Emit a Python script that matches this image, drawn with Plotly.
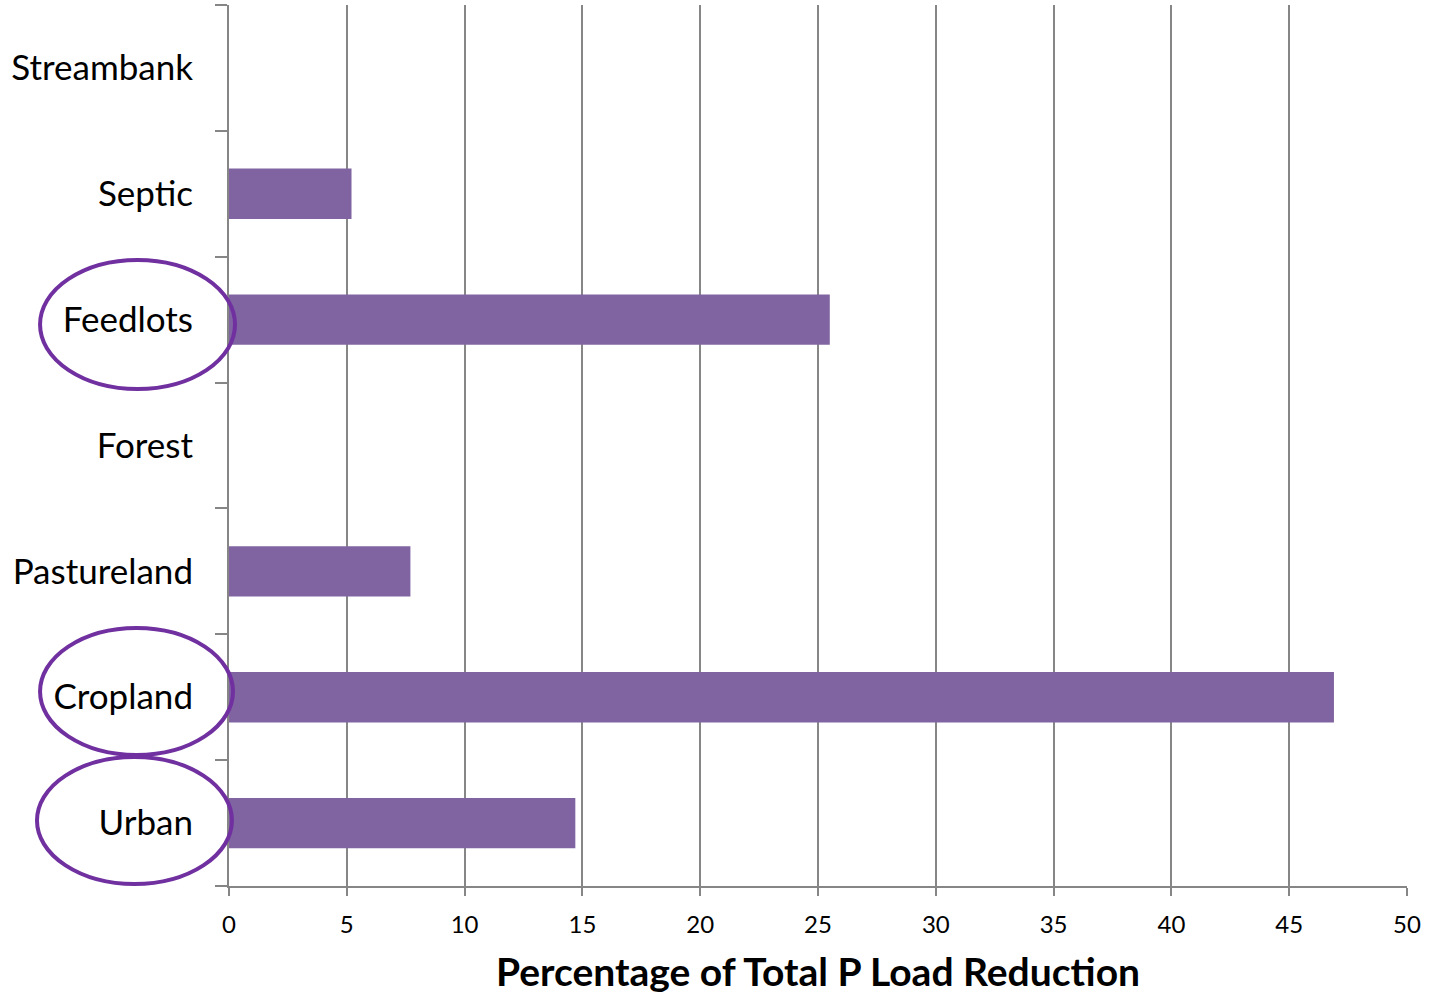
import plotly.graph_objects as go

# Source categories listed bottom-to-top as they appear on the axis
sources = ["Urban", "Cropland", "Pastureland", "Forest", "Feedlots", "Septic", "Streambank"]
reduction_pct = [14.7, 46.9, 7.7, 0, 25.5, 5.2, 0]

# Sources highlighted with an outline ellipse: (x0, x1) in paper units, (y0, y1) in category units
highlighted = {
    "Feedlots": (-0.1604, 0.0051, 3.449, 4.474),
    "Cropland": (-0.1604, 0.0034, 0.541, 1.550),
    "Urban": (-0.1630, 0.0025, -0.484, 0.525),
}

AXIS_GREY = "#868686"
BAR_PURPLE = "#8064A2"
RING_PURPLE = "#7030A0"

fig = go.Figure(
    go.Bar(
        x=reduction_pct,
        y=sources,
        orientation="h",
        marker=dict(color=BAR_PURPLE, line=dict(width=0)),
        hoverinfo="x+y",
    )
)

for name, (x0, x1, y0, y1) in highlighted.items():
    fig.add_shape(
        type="circle",
        xref="paper", yref="y",
        x0=x0, x1=x1, y0=y0, y1=y1,
        line=dict(color=RING_PURPLE, width=4),
        fillcolor="rgba(0,0,0,0)",
        layer="above",
    )

fig.update_layout(
    width=1433,
    height=994,
    margin=dict(l=229, r=26, t=5, b=108),
    paper_bgcolor="white",
    plot_bgcolor="white",
    bargap=0.6,
    showlegend=False,
    font=dict(family="Lato, sans-serif", color="black"),
    xaxis=dict(
        range=[0, 50],
        tickmode="linear",
        tick0=0,
        dtick=5,
        showgrid=True,
        gridcolor=AXIS_GREY,
        gridwidth=1.5,
        zeroline=False,
        showline=True,
        linecolor=AXIS_GREY,
        linewidth=2,
        ticks="outside",
        ticklen=8,
        tickwidth=2,
        tickcolor=AXIS_GREY,
        ticklabelstandoff=8,
        tickfont=dict(size=24, family="Lato, sans-serif", color="black"),
        title=dict(
            text="<b>Percentage of Total P Load Reduction</b>",
            font=dict(size=39, family="Lato, sans-serif", color="black"),
            standoff=22,
        ),
    ),
    yaxis=dict(
        categoryorder="array",
        categoryarray=sources,
        range=[-0.5, 6.5],
        showgrid=False,
        zeroline=False,
        showline=True,
        linecolor=AXIS_GREY,
        linewidth=2,
        ticks="outside",
        tickson="boundaries",
        ticklen=12,
        tickwidth=2,
        tickcolor=AXIS_GREY,
        ticklabelstandoff=27,
        tickfont=dict(size=35, family="Lato, sans-serif", color="black"),
    ),
)

fig.write_html("out.html")
